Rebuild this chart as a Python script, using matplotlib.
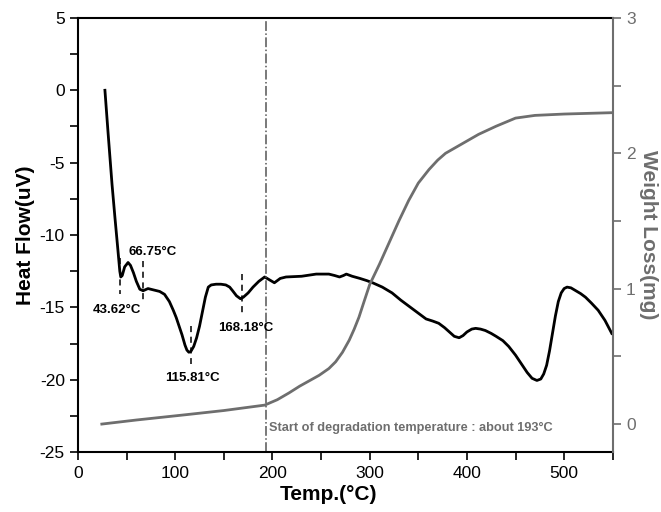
import matplotlib
matplotlib.use("Agg")
import matplotlib.pyplot as plt
import matplotlib.ticker as ticker

plt.rcParams['font.family'] = ['Liberation Sans Narrow', 'Liberation Sans', 'DejaVu Sans']
plt.rcParams['axes.unicode_minus'] = False

# DSC curve (heat flow, left axis)
temp_hf = [27.7, 31, 35, 38, 41, 43, 44, 45.5, 48, 51.5, 54, 57, 60, 63.6, 67, 72, 78, 84, 89,
           94, 98, 101, 104, 107, 110, 112, 114, 116, 119, 122, 125, 128, 131, 134, 137, 142,
           147, 152, 156, 159, 163, 167, 170, 175, 180, 186, 192, 197, 202, 208, 214, 230,
           245, 258, 264, 269, 273, 276, 282, 290, 297, 303, 313, 323, 332, 340, 350, 358, 365,
           371, 377, 382, 387, 392, 396, 400, 405, 409, 414, 419, 425, 430, 437, 443, 450, 456,
           462, 467, 472, 476, 479, 482, 485, 488, 491, 494, 497, 500, 503, 507, 512, 517, 522,
           528, 535, 542, 549]
heat_flow = [0.0, -3.0, -6.5, -8.8, -11.0, -12.5, -12.9, -12.8, -12.2, -11.9, -12.1, -12.6,
             -13.2, -13.75, -13.85, -13.7, -13.8, -13.9, -14.1, -14.6, -15.2, -15.7, -16.3,
             -16.9, -17.6, -17.95, -18.1, -18.05, -17.7, -17.1, -16.3, -15.3, -14.3, -13.6,
             -13.45, -13.4, -13.4, -13.45, -13.6, -13.85, -14.2, -14.4, -14.3, -14.0, -13.6,
             -13.2, -12.9, -13.1, -13.3, -13.0, -12.9, -12.85, -12.7, -12.7, -12.8, -12.9, -12.8,
             -12.7, -12.85, -13.0, -13.15, -13.3, -13.6, -14.0, -14.5, -14.9, -15.4, -15.8,
             -15.95, -16.1, -16.4, -16.7, -17.0, -17.1, -16.95, -16.7, -16.5, -16.45, -16.5,
             -16.6, -16.8, -17.0, -17.3, -17.7, -18.3, -18.9, -19.5, -19.9, -20.05, -19.95,
             -19.6, -19.0, -18.0, -16.8, -15.6, -14.6, -14.0, -13.7, -13.6, -13.65, -13.85,
             -14.05, -14.3, -14.7, -15.2, -15.9, -16.8]

# TGA curve (weight loss, right axis)
temp_wl = [24.5, 60, 112, 150, 192, 205, 217, 228, 238, 248, 258, 265, 272, 279, 284, 289,
           294, 300, 310, 320, 330, 340, 350, 361, 370, 378, 395, 412, 430, 450, 470, 500, 549]
weight_loss = [0.0, 0.03, 0.07, 0.10, 0.14, 0.18, 0.23, 0.28, 0.32, 0.36, 0.41, 0.46, 0.53,
               0.62, 0.70, 0.79, 0.90, 1.03, 1.18, 1.34, 1.50, 1.65, 1.78, 1.88, 1.95, 2.0,
               2.07, 2.14, 2.20, 2.26, 2.28, 2.29, 2.30]

peak_temps = [43.62, 66.75, 115.81, 168.18]
onset_temp = 193

grey = '#6e6e6e'

fig, ax = plt.subplots(figsize=(6.61, 5.12), dpi=100)
fig.subplots_adjust(left=0.118, right=0.927, top=0.965, bottom=0.117)

ax.plot(temp_hf, heat_flow, color='black', lw=2.0)
ax.set_xlim(0, 550)
ax.set_ylim(-25, 5)
ax.xaxis.set_major_locator(ticker.MultipleLocator(100))
ax.xaxis.set_minor_locator(ticker.MultipleLocator(50))
ax.yaxis.set_major_locator(ticker.MultipleLocator(5))
ax.yaxis.set_minor_locator(ticker.MultipleLocator(2.5))
ax.tick_params(which='both', direction='out', labelsize=12.5, width=1.2, length=6)
ax.tick_params(axis='x', pad=4)
for s in ax.spines.values():
    s.set_linewidth(1.5)
ax.spines['right'].set_visible(False)
ax.set_xlabel('Temp.(°C)', fontsize=15, fontweight='bold')
ax.xaxis.set_label_coords(0.469, -0.075)
ax.set_ylabel('Heat Flow(uV)', fontsize=15, fontweight='bold', labelpad=3)

# onset line
ax.axvline(onset_temp, color='#555555', lw=1.1, ls='-.')
ax.text(onset_temp + 3, -23.3, 'Start of degradation temperature : about 193°C',
        color=grey, fontsize=9.2, fontweight='bold', va='center', ha='left')

# peak markers
ax.plot([peak_temps[0]] * 2, [-11.6, -14.1], color='black', lw=1.1, ls=(0, (4, 3)))
ax.plot([peak_temps[1]] * 2, [-11.8, -14.6], color='black', lw=1.1, ls=(0, (4, 3)))
ax.plot([peak_temps[2]] * 2, [-16.3, -18.9], color='black', lw=1.1, ls=(0, (4, 3)))
ax.plot([peak_temps[3]] * 2, [-12.7, -15.4], color='black', lw=1.1, ls=(0, (4, 3)))
ax.text(40, -15.2, '43.62°C', fontsize=9.5, fontweight='bold', ha='center', va='center')
ax.text(51.5, -11.2, '66.75°C', fontsize=9.5, fontweight='bold', ha='left', va='center')
ax.text(118, -19.9, '115.81°C', fontsize=9.5, fontweight='bold', ha='center', va='center')
ax.text(173, -16.45, '168.18°C', fontsize=9.5, fontweight='bold', ha='center', va='center')

ax2 = ax.twinx()
ax2.plot(temp_wl, weight_loss, color=grey, lw=2.0)
ax2.set_ylim(-0.207, 3)
ax2.yaxis.set_major_locator(ticker.MultipleLocator(1))
ax2.yaxis.set_minor_locator(ticker.MultipleLocator(0.5))
ax2.tick_params(which='both', direction='out', length=6, width=1.2, colors=grey, labelsize=12.5)
for side in ['left', 'top', 'bottom']:
    ax2.spines[side].set_visible(False)
ax2.spines['right'].set_color(grey)
ax2.spines['right'].set_linewidth(1.5)
ax2.set_ylabel('Weight Loss(mg)', fontsize=15, fontweight='bold', color=grey,
               rotation=270, labelpad=16)

fig.savefig('out.png', dpi=100)
